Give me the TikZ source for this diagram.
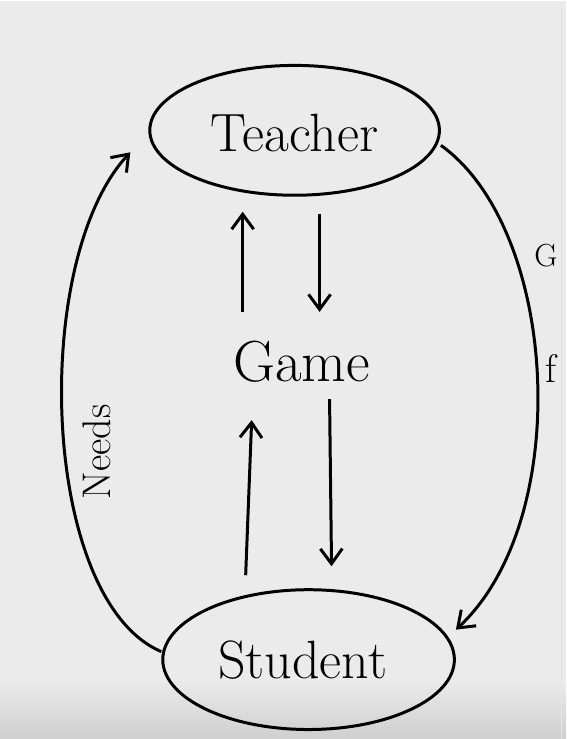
\documentclass[tikz,border=0pt]{standalone}
\usepackage{fontspec}
\usepackage{tikz}
\usetikzlibrary{arrows.meta,positioning,shapes.geometric}
\definecolor{board}{HTML}{EBEBEB}
\definecolor{boardshade}{HTML}{CFCFCF}
\tikzset{
  actor/.style={ellipse,draw,line width=3pt,inner sep=0pt},
  hand/.style={font=\fontsize{54}{58}\selectfont},
  flows/.style={line width=3pt,-{Straight Barb[length=15pt,width=22pt,line width=3pt]}},
  note/.style={font=\fontsize{40}{44}\selectfont}
}
\begin{document}
\begin{tikzpicture}[x=1pt,y=-1pt]
      % board
      \fill[board] (0,0) rectangle (567,739);
      \shade[top color=board,bottom color=boardshade] (0,680) rectangle (567,739);
      \draw[pink!60,line width=1pt] (562,0) -- (562,739);
      \clip (0,0) rectangle (567,739);
      \useasboundingbox (0,0) rectangle (567,739);
      % nodes
      \node[actor,minimum width=290pt,minimum height=130pt] (teacher) at (295,130) {};
      \node[hand] at (295,133) {Teacher};
      \node[hand,font=\fontsize{58}{60}\selectfont,minimum width=160pt,minimum height=70pt,inner sep=0pt] (game) at (302,362) {Game};
      \node[actor,minimum width=292pt,minimum height=140pt] (student) at (309,660) {};
      \node[hand] at (303,660) {Student};
      % flows through the game
      \draw[flows] ([xshift=25pt,yshift=-17pt]teacher.south) -- ([xshift=18pt,yshift=15pt]game.north);
      \draw[flows] ([xshift=-59pt,yshift=15pt]game.north) -- ([xshift=-52pt,yshift=-15pt]teacher.south);
      \draw[flows] ([xshift=28pt,yshift=-2pt]game.south) -- ([xshift=23pt,yshift=22pt]student.north);
      \draw[flows] ([xshift=-63pt,yshift=13pt]student.north) -- ([xshift=-50pt,yshift=-23pt]game.south);
      % outer loop
      \draw[flows] ([yshift=8pt]student.west) .. controls (40,600) and (30,260) .. ([xshift=-18pt,yshift=-22pt]teacher.west);
      \node[note,rotate=90] (needs) at (97,452) {Needs};
      \draw[flows] ([yshift=-15pt]teacher.east) .. controls (560,230) and (575,520) .. ([yshift=30pt]student.east);
      \node[note,font=\fontsize{32}{36}\selectfont,anchor=west,inner sep=1pt] (gives) at (534,255) {G};
      \node[note,anchor=west] (feedback) at (543,368) {f};
    \end{tikzpicture}
\end{document}
